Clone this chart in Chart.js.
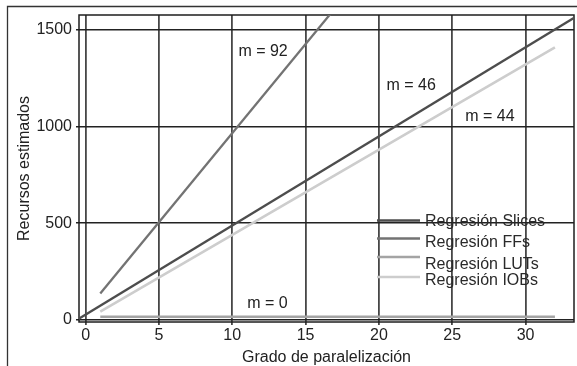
<!DOCTYPE html>
<html>
<head>
<meta charset="utf-8">
<script src="https://cdn.jsdelivr.net/npm/chart.js@4.4.1/dist/chart.umd.min.js"></script>
<style>
  html, body { margin: 0; padding: 0; background: #fff; }
  #wrap { width: 577px; height: 366px; }
</style>
</head>
<body>
<div id="wrap"><canvas id="c" width="577" height="366"></canvas></div>
<script>
// Regression lines: resources vs. degree of parallelization
const seriesNames = ['Regresión Slices', 'Regresión FFs', 'Regresión LUTs', 'Regresión IOBs'];
const slopes      = [46, 92, 0, 44];
const intercepts  = [28, 45, 17, 0];
const xStart      = [-1, 1, 1, 1];
const xEnd        = [34, 17, 32, 32];
const slopeLabels = ['m = 46', 'm = 92', 'm = 0', 'm = 44'];
const xTicks = [0, 5, 10, 15, 20, 25, 30];
const yTicks = [0, 500, 1000, 1500];

const lineColors = ['#4d4d4d', '#737373', '#a4a4a4', '#cdcdcd'];
const lineWidths = [2.4, 2.3, 2.6, 2.6];
const FONT = 'Liberation Sans, Arial, Helvetica, sans-serif';

// where each slope label sits, in data units
const labelAnchors = [
  { x: 22.2, y: 1213 },
  { x: 12.1, y: 1384 },
  { x: 12.4, y: 86 },
  { x: 27.57, y: 1048 }
];

const datasets = seriesNames.map((name, i) => ({
  label: name,
  data: [xStart[i], xEnd[i]].map(x => ({ x: x, y: slopes[i] * x + intercepts[i] })),
  showLine: true,
  borderColor: lineColors[i],
  backgroundColor: lineColors[i],
  borderWidth: lineWidths[i],
  pointRadius: 0,
  borderCapStyle: 'butt'
}));

const decor = {
  id: 'decor',
  beforeDatasetsDraw(chart) {
    const { ctx, chartArea: a } = chart;
    ctx.save();
    // plot box
    ctx.strokeStyle = '#1e1e1e';
    ctx.lineWidth = 1.5;
    ctx.strokeRect(a.left, a.top, a.right - a.left, a.bottom - a.top);
    // figure frame (top and left)
    ctx.strokeStyle = '#333';
    ctx.lineWidth = 1.3;
    ctx.beginPath();
    ctx.moveTo(7.5, chart.height);
    ctx.lineTo(7.5, 6.5);
    ctx.lineTo(chart.width, 6.5);
    ctx.stroke();
    ctx.restore();
  },
  afterDatasetsDraw(chart) {
    const { ctx } = chart;
    const xs = chart.scales.x, ys = chart.scales.y;
    ctx.save();
    ctx.font = '16px ' + FONT;
    ctx.fillStyle = '#222';
    ctx.textAlign = 'center';
    ctx.textBaseline = 'middle';
    slopeLabels.forEach((t, i) => {
      ctx.fillText(t, xs.getPixelForValue(labelAnchors[i].x), ys.getPixelForValue(labelAnchors[i].y));
    });
    // legend
    const lineY = [220.5, 238.5, 257, 277];
    const textY = [222, 243, 265, 281];
    ctx.textAlign = 'left';
    seriesNames.forEach((name, i) => {
      ctx.strokeStyle = lineColors[i];
      ctx.lineWidth = 2.6;
      ctx.beginPath();
      ctx.moveTo(377, lineY[i]);
      ctx.lineTo(420, lineY[i]);
      ctx.stroke();
      ctx.fillStyle = '#2a2a2a';
      ctx.fillText(name, 425, textY[i]);
    });
    ctx.restore();
  }
};

new Chart(document.getElementById('c'), {
  type: 'scatter',
  data: { datasets },
  plugins: [decor],
  options: {
    responsive: false,
    animation: false,
    devicePixelRatio: 1,
    layout: { padding: { top: 15, right: 3, left: 0, bottom: 0 } },
    plugins: { legend: { display: false }, tooltip: { enabled: false } },
    scales: {
      x: {
        type: 'linear',
        min: -0.45,
        max: 33.3,
        afterFit(s) { s.height = 44; },
        afterBuildTicks(s) { s.ticks = xTicks.map(v => ({ value: v })); },
        ticks: { color: '#222', font: { family: FONT, size: 16 }, padding: 1, maxRotation: 0,
                 callback: v => String(v) },
        grid: { color: '#474747', lineWidth: 1.8, tickLength: 3 },
        border: { display: false },
        title: {
          display: true, text: 'Grado de paralelización', color: '#222',
          font: { family: FONT, size: 16 }, padding: { top: 0, bottom: -1.5 }
        }
      },
      y: {
        type: 'linear',
        min: -10,
        max: 1575,
        afterFit(s) { s.width = 79; },
        afterBuildTicks(s) { s.ticks = yTicks.map(v => ({ value: v })); },
        ticks: { color: '#222', font: { family: FONT, size: 16 }, padding: 4,
                 callback: v => String(v) },
        grid: { color: '#222', lineWidth: 1.5, tickLength: 3 },
        border: { display: false },
        title: {
          display: true, text: 'Recursos estimados', color: '#222',
          font: { family: FONT, size: 16 }, padding: { top: 14.5, bottom: 0 }
        }
      }
    }
  }
});
</script>
</body>
</html>
